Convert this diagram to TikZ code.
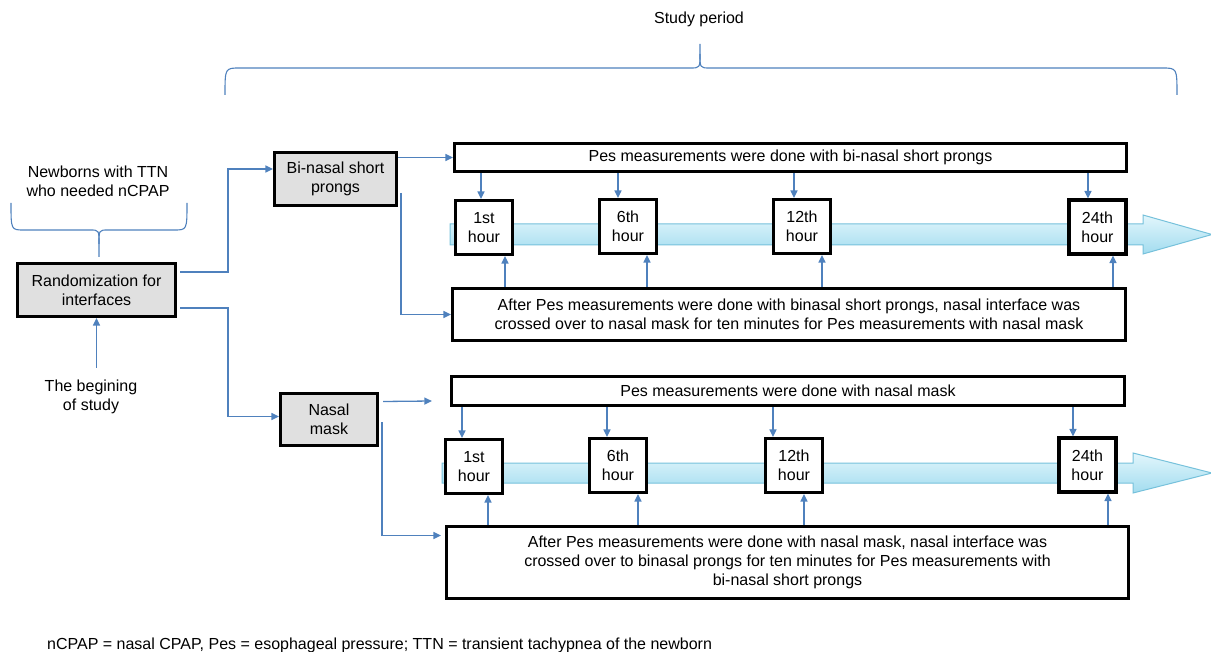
\documentclass[tikz,border=0pt]{standalone}
\usepackage{fontspec}
\setmainfont{Liberation Sans}
\usetikzlibrary{arrows.meta}
\definecolor{linkblue}{HTML}{4F81BD}
\definecolor{boxgray}{HTML}{E0E0E0}
\definecolor{bandtop}{HTML}{E2F6FC}
\definecolor{bandbot}{HTML}{A2DCEF}
\definecolor{bandline}{HTML}{76C1DB}
\begin{document}
\begin{tikzpicture}[x=1pt, y=-1pt,
        every node/.style = {font=\fontsize{16}{19}\selectfont, align=center, inner sep=0pt},
        gbox/.style  = {draw, line width=3.2pt, fill=boxgray},
        wbox/.style  = {draw, line width=3.2pt, fill=white},
        hourbox/.style = {wbox, minimum width=57pt, minimum height=54pt},
        conn/.style  = {draw=linkblue, line width=1.3pt, -{Triangle[length=7.5pt,width=7pt]}},
        brace/.style = {draw=linkblue, line width=1.1pt},
        band/.style  = {top color=bandtop, bottom color=bandbot, draw=bandline, line width=1pt}
    ]
    \useasboundingbox (0,0) rectangle (1211,652);
    % time lines
    \path[band] (450,224) -- (1143,224) -- (1143,215) -- (1212,234.5) -- (1143,254) -- (1143,245) -- (450,245) -- cycle;
    \path[band] (442,463) -- (1133,463) -- (1133,453) -- (1212,473) -- (1133,493) -- (1133,483) -- (442,483) -- cycle;
    % braces
    \draw[brace] (225,95) .. controls (225,68) .. (240,68) -- (690,68) .. controls (700,68) .. (700,54) -- (700,44);
    \draw[brace] (1177,95) .. controls (1177,68) .. (1162,68) -- (710,68) .. controls (700,68) .. (700,54);
    \draw[brace] (11,203) .. controls (11,230) .. (24,230) -- (90,230) .. controls (99,230) .. (99,244) -- (99,257);
    \draw[brace] (187,203) .. controls (187,230) .. (174,230) -- (108,230) .. controls (99,230) .. (99,244);
    % texts
    \node (study) at (699,19) {Study period};
    \node (newborn) at (98,181) {Newborns with TTN\\who needed nCPAP};
    \node (begin) at (91,397) {The begining\\of study};
    \node[anchor=west] (note) at (47,645) {nCPAP = nasal CPAP, Pes = esophageal pressure; TTN = transient tachypnea of the newborn};
    % boxes
    \node[gbox, minimum width=158pt, minimum height=53pt] (rand) at (96.5,290) {Randomization for\\interfaces};
    \node[gbox, minimum width=122pt, minimum height=53pt] (bin) at (335.5,179) {Bi-nasal short\\prongs};
    \node[gbox, minimum width=97pt, minimum height=52pt] (mask) at (329,419.5) {Nasal\\mask};
    \node[wbox, minimum width=672pt, minimum height=28pt] (pes1) at (790.5,157.5) {Pes measurements were done with bi-nasal short prongs};
    \node[wbox, minimum width=673pt, minimum height=52pt] (after1) at (789,314.5) {After Pes measurements were done with binasal short prongs, nasal interface was\\crossed over to nasal mask for ten minutes for Pes measurements with nasal mask};
    \node[wbox, minimum width=673pt, minimum height=29pt] (pes2) at (788,391) {Pes measurements were done with nasal mask};
    \node[wbox, minimum width=682pt, minimum height=72pt] (after2) at (787.5,562.5) {After Pes measurements were done with nasal mask, nasal interface was\\crossed over to binasal prongs for ten minutes for Pes measurements with\\bi-nasal short prongs};
    \node[hourbox] (h1a) at (484,227.5) {1st\\hour};
    \node[hourbox] (h1b) at (628,226.5) {6th\\hour};
    \node[hourbox] (h1c) at (802,226.5) {12th\\hour};
    \node[hourbox] (h1d) at (1097.5,227) {24th\\hour};
    \node[hourbox] (h2a) at (474,466.5) {1st\\hour};
    \node[hourbox] (h2b) at (618,465.5) {6th\\hour};
    \node[hourbox] (h2c) at (794,465.5) {12th\\hour};
    \node[hourbox] (h2d) at (1087.5,465) {24th\\hour};
    % connectors
    \draw[conn, shorten <=12pt] (begin.north -| rand.south) -- (rand.south);
    \draw[conn] ([xshift=3pt,yshift=18pt]rand.east) -- ++(48,0) |- ([yshift=10pt]bin.west);
    \draw[conn] ([xshift=3pt,yshift=-18pt]rand.east) -- ++(48,0) |- ([yshift=3pt]mask.west);
    \draw[conn] (bin.east |- pes1.west) -- (pes1.west);
    \draw[conn] ([xshift=3pt,yshift=-14pt]bin.east) |- (after1.west);
    \draw[conn] ([xshift=4pt,yshift=18pt]mask.east) -- ([xshift=-18pt,yshift=-10pt]pes2.west);
    \draw[conn] ([xshift=3pt,yshift=-3pt]mask.east) |- ([xshift=-4pt,yshift=27pt]after2.west);
    \foreach \h/\xd/\xu in {h1a/481/505, h1b/618/647, h1c/794/822, h1d/1088/1113} {
        \draw[conn] (pes1.south -| \xd,0) -- (\h.north -| \xd,0);
        \draw[conn] (after1.north -| \xu,0) -- (\h.south -| \xu,0);
    }
    \foreach \h/\xd/\xu in {h2a/462/488, h2b/607/638, h2c/773/804, h2d/1073/1108} {
        \draw[conn] (pes2.south -| \xd,0) -- (\h.north -| \xd,0);
        \draw[conn] (after2.north -| \xu,0) -- (\h.south -| \xu,0);
    }
\end{tikzpicture}
\end{document}
